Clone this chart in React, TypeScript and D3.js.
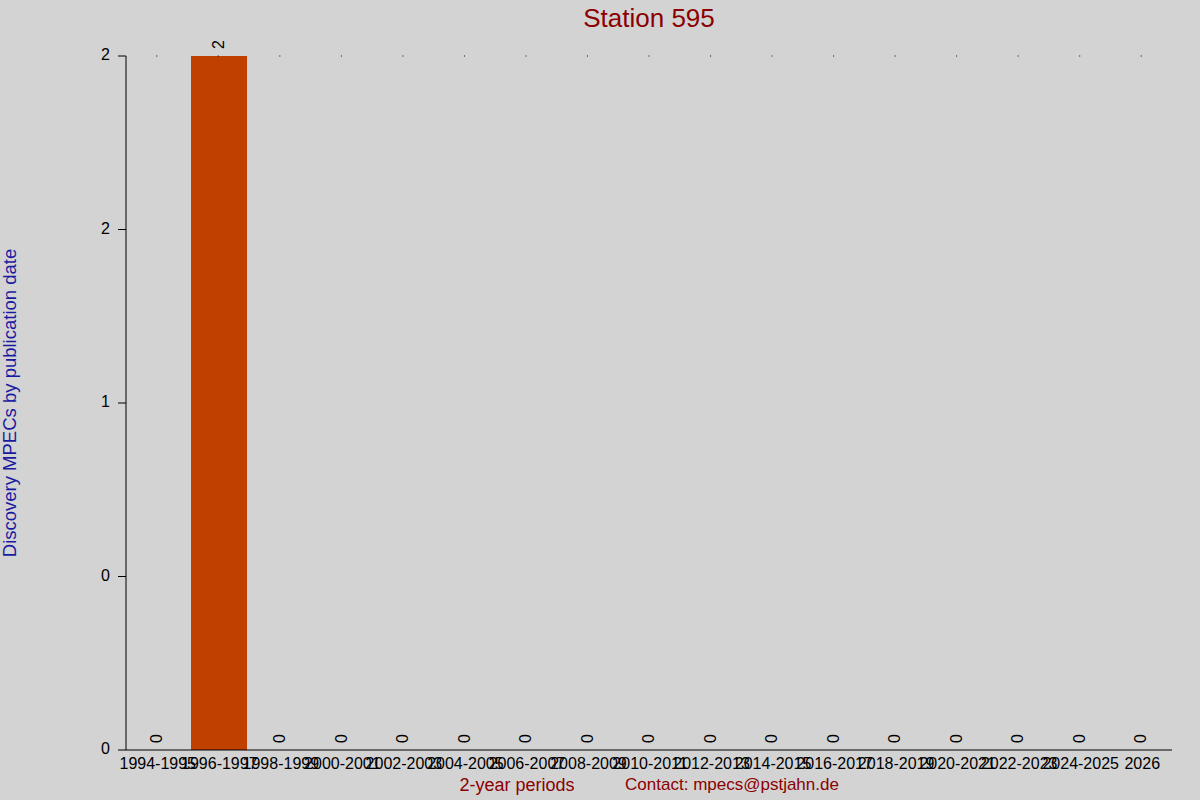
import * as d3 from 'd3';

const categories = [
  '1994-1995', '1996-1997', '1998-1999', '2000-2001', '2002-2003', '2004-2005',
  '2006-2007', '2008-2009', '2010-2011', '2012-2013', '2014-2015', '2016-2017',
  '2018-2019', '2020-2021', '2022-2023', '2024-2025', '2026',
];
const values = [0, 2, 0, 0, 0, 0, 0, 0, 0, 0, 0, 0, 0, 0, 0, 0, 0];
const yTicks = [0, 0.5, 1, 1.5, 2];
const yTickLabels = ['0', '0', '1', '2', '2'];

export default function App() {
  const width = 1200;
  const height = 800;
  const margin = { top: 56, right: 28, bottom: 50, left: 126 };
  const font = "'Liberation Sans', Arial, sans-serif";

  const x = d3.scaleBand()
    .domain(categories)
    .range([margin.left, width - margin.right])
    .paddingInner(0.09)
    .paddingOuter(0.045);

  const y = d3.scaleLinear()
    .domain([0, 2])
    .range([height - margin.bottom, margin.top]);

  const cx = (c: string) => (x(c) ?? 0) + x.bandwidth() / 2;
  const plotMid = (margin.left + width - margin.right) / 2;

  return (
    <div>
      <style>{'body{margin:0}'}</style>
      <svg width={width} height={height} style={{ display: 'block', fontFamily: font }}>
        <rect width={width} height={height} fill="#d3d3d3" />

        {/* title */}
        <text x={plotMid} y={27} textAnchor="middle" fontSize={26} fill="#8b0000">
          Station 595
        </text>

        {/* bars */}
        {categories.map((c, i) => (
          <rect
            key={c}
            x={Math.round(x(c) ?? 0) + 1}
            y={y(values[i])}
            width={x.bandwidth()}
            height={y(0) - y(values[i])}
            fill="#c04000"
          />
        ))}

        {/* value labels, rotated */}
        {categories.map((c, i) => (
          <text
            key={c}
            transform={`translate(${cx(c) + 1},${y(values[i]) - 7}) rotate(-90)`}
            dominantBaseline="middle"
            fontSize={16}
            fill="#000"
          >
            {values[i]}
          </text>
        ))}

        {/* top dots */}
        {categories.map((c) => (
          <rect key={c} x={cx(c) - 0.5} y={margin.top - 0.5} width={1} height={1} fill="#000" />
        ))}

        {/* y axis */}
        <line x1={margin.left} x2={margin.left} y1={margin.top} y2={y(0)} stroke="#000" />
        {yTicks.map((t, i) => (
          <g key={i}>
            <line x1={margin.left - 8} x2={margin.left} y1={y(t)} y2={y(t)} stroke="#000" />
            <text
              x={margin.left - 16}
              y={y(t)}
              textAnchor="end"
              dominantBaseline="middle"
              fontSize={16}
              fill="#000"
            >
              {yTickLabels[i]}
            </text>
          </g>
        ))}

        {/* x axis */}
        <line x1={margin.left} x2={width - margin.right} y1={y(0)} y2={y(0)} stroke="#000" />
        {categories.map((c) => (
          <text
            key={c}
            x={cx(c) + 1}
            y={y(0) + 15}
            textAnchor="middle"
            dominantBaseline="middle"
            fontSize={16}
            fill="#000"
          >
            {c}
          </text>
        ))}

        {/* axis titles */}
        <text
          transform={`translate(11,${(margin.top + y(0)) / 2}) rotate(-90)`}
          textAnchor="middle"
          dominantBaseline="middle"
          fontSize={18.5}
          fill="#1a1aa0"
        >
          Discovery MPECs by publication date
        </text>
        <text x={517} y={786} textAnchor="middle" dominantBaseline="middle" fontSize={18} fill="#8b0000">
          2-year periods
        </text>
        <text x={732} y={786} textAnchor="middle" dominantBaseline="middle" fontSize={17} fill="#8b0000">
          Contact: mpecs@pstjahn.de
        </text>
      </svg>
    </div>
  );
}
